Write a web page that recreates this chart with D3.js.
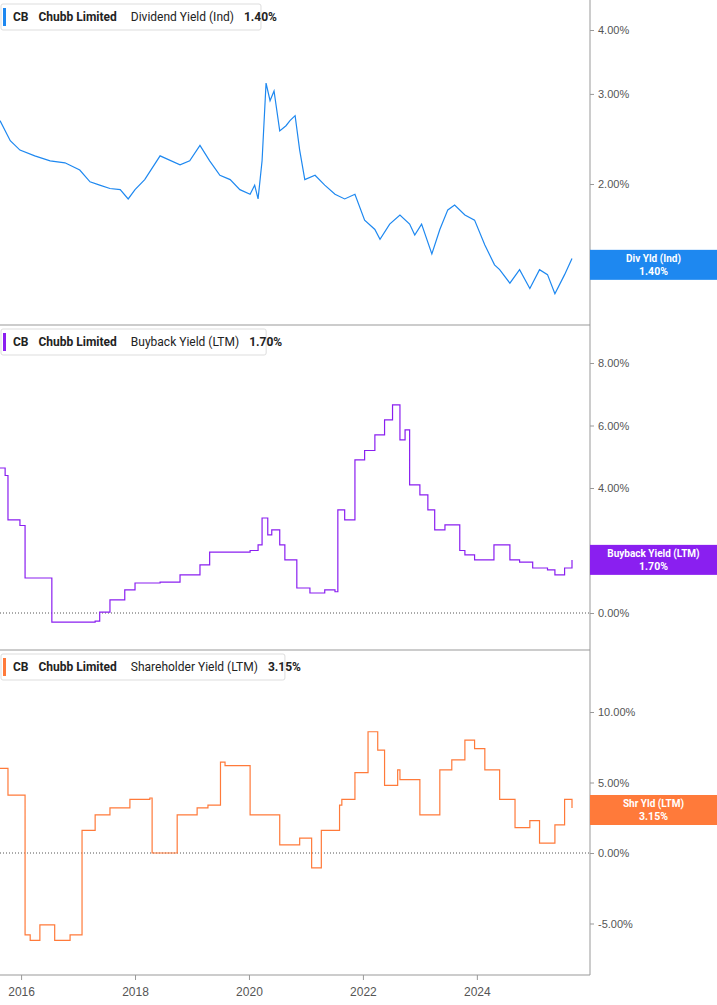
<!DOCTYPE html><html><head><meta charset="utf-8">
<script src="https://cdn.jsdelivr.net/npm/d3@7"></script>
<style>body{margin:0;background:#fff;font-family:Roboto,"Open Sans",sans-serif}</style></head><body>
<script>
const yearTicks=[2016,2018,2020,2022,2024];
const divYears=[15.63,15.81,15.98,16.24,16.51,16.77,17.03,17.21,17.38,17.56,17.74,17.88,18.00,18.17,18.44,18.79,18.96,19.14,19.31,19.49,19.67,19.84,20.02,20.10,20.16,20.23,20.30,20.37,20.44,20.54,20.65,20.72,20.81,20.89,20.98,21.16,21.33,21.51,21.68,21.86,22.03,22.21,22.30,22.47,22.65,22.82,22.91,23.03,23.21,23.35,23.49,23.61,23.79,23.96,24.14,24.31,24.40,24.58,24.75,24.93,25.10,25.24,25.37,25.54,25.67];
const divVals=[2.66,2.43,2.33,2.27,2.22,2.20,2.13,2.02,1.99,1.96,1.95,1.87,1.95,2.04,2.27,2.18,2.22,2.38,2.22,2.08,2.04,1.95,1.91,1.99,1.87,2.22,3.15,2.91,3.04,2.54,2.60,2.66,2.72,2.33,2.04,2.08,1.99,1.91,1.87,1.91,1.70,1.63,1.56,1.67,1.74,1.67,1.59,1.67,1.46,1.63,1.78,1.82,1.74,1.70,1.52,1.39,1.36,1.28,1.36,1.25,1.36,1.33,1.22,1.33,1.43,1.39];
const bbYears=[15.63,15.72,15.77,15.98,16.07,16.33,16.54,17.30,17.38,17.56,17.82,18.00,18.44,18.79,19.14,19.31,19.67,20.02,20.16,20.23,20.33,20.40,20.54,20.63,20.84,21.07,21.33,21.51,21.56,21.68,21.81,21.86,22.03,22.21,22.38,22.52,22.65,22.74,22.82,23.00,23.14,23.26,23.44,23.70,23.79,23.96,24.30,24.58,24.75,24.98,25.24,25.37,25.54,25.67];
const bbVals=[4.64,4.40,2.98,2.80,1.12,1.12,-0.29,-0.26,0.03,0.42,0.74,0.96,0.99,1.22,1.54,1.95,1.95,2.00,2.18,3.04,2.50,2.66,2.18,1.70,0.80,0.64,0.74,0.68,3.30,2.98,2.98,4.90,5.20,5.70,6.18,6.66,5.54,5.86,4.10,3.78,3.30,2.66,2.82,2.00,1.86,1.70,2.18,1.70,1.63,1.44,1.38,1.22,1.44,1.70,1.70];
const shYears=[15.63,15.77,16.07,16.16,16.33,16.59,16.86,17.07,17.07,17.30,17.56,17.91,18.26,18.30,18.52,18.74,19.09,19.28,19.50,19.58,20.02,20.12,20.54,20.80,20.89,21.10,21.13,21.27,21.59,21.63,21.86,21.91,22.09,22.26,22.38,22.61,22.65,23.00,23.14,23.35,23.56,23.79,23.96,24.14,24.40,24.67,24.93,25.10,25.37,25.54,25.67];
const shVals=[6.0,4.1,-5.8,-6.2,-5.1,-6.2,-5.8,-5.8,1.6,2.7,3.2,3.8,3.9,0,0,2.7,3.2,3.4,6.45,6.2,2.7,2.7,0.57,0.57,1.06,-1.06,-1.06,1.6,3.4,3.8,5.7,5.7,8.6,7.3,4.8,5.9,5.2,2.7,2.7,5.9,6.6,8.0,7.4,5.9,3.8,1.8,2.3,0.7,2.0,3.8,3.2,3.05];
const divTicks=[2,3,4], bbTicks=[0,2,4,6,8], shTicks=[-5,0,5,10];

const W=717,H=1005,R=590;
const svg=d3.select("body").append("svg").attr("width",W).attr("height",H).style("font-family","Roboto,sans-serif");
const x=d3.scaleLinear().domain([2015.63,2025.67]).range([0,572]);
const yr=a=>a.map(v=>2000+v);
const panels=[
 {top:0,bot:325,color:"#1e88f0",years:yr(divYears),vals:divVals,y:d3.scaleLog().domain([2,4]).range([184,30]),ticks:divTicks,fmt:d=>d.toFixed(2)+"%",name:"Dividend Yield (Ind)",val:"1.40%",lab:"Div Yld (Ind)",curve:d3.curveLinear,zero:false},
 {top:325,bot:650,color:"#8a1ff0",years:yr(bbYears),vals:bbVals,y:d3.scaleLinear().domain([0,8]).range([613,363]),ticks:bbTicks,fmt:d=>d.toFixed(2)+"%",name:"Buyback Yield (LTM)",val:"1.70%",lab:"Buyback Yield (LTM)",curve:d3.curveStepAfter,zero:true},
 {top:650,bot:975,color:"#ff7a3a",years:yr(shYears),vals:shVals,y:d3.scaleLinear().domain([0,10]).range([853,712]),ticks:shTicks,fmt:d=>d.toFixed(2)+"%",name:"Shareholder Yield (LTM)",val:"3.15%",lab:"Shr Yld (LTM)",curve:d3.curveStepAfter,zero:true}];
svg.append("line").attr("x1",R).attr("x2",R).attr("y1",0).attr("y2",975).attr("stroke","#999");
panels.forEach((p,i)=>{
  const g=svg.append("g");
  if(i>0) g.append("line").attr("x1",0).attr("x2",R).attr("y1",p.top).attr("y2",p.top).attr("stroke","#999");
  const ax=g.append("g").attr("transform",`translate(${R},0)`).call(d3.axisRight(p.y).tickValues(p.ticks).tickFormat(p.fmt).tickSize(4));
  ax.select(".domain").remove();ax.selectAll("line").attr("stroke","#999");
  ax.selectAll("text").attr("x",8).attr("fill","#555").style("font-size","11px");
  if(p.zero) g.append("line").attr("x1",0).attr("x2",R).attr("y1",p.y(0)).attr("y2",p.y(0)).attr("stroke","#555").attr("stroke-dasharray","1,2");
  const pts=p.years.map((t,k)=>[t,p.vals[k]]);
  g.append("path").attr("d",d3.line().x(d=>x(d[0])).y(d=>p.y(d[1])).curve(p.curve)(pts)).attr("fill","none").attr("stroke",p.color).attr("stroke-width",1.2);
  const lg=g.append("g").attr("transform",`translate(1,${p.top+4})`);
  const t=lg.append("text").attr("x",12).attr("y",17).style("font-size","12px").attr("fill","#222");
  t.append("tspan").text("CB").attr("font-weight","bold");
  t.append("tspan").text("Chubb Limited").attr("font-weight","bold").attr("dx",10);
  t.append("tspan").text(p.name).attr("dx",14);
  t.append("tspan").text(p.val).attr("font-weight","bold").attr("dx",10);
  const bw=t.node().getComputedTextLength()+30;
  lg.insert("rect","text").attr("width",bw).attr("height",26).attr("fill","#fff").attr("stroke","#ddd").attr("rx",2);
  lg.insert("rect","text").attr("x",2).attr("y",4).attr("width",3).attr("height",18).attr("fill",p.color);
  const last=p.vals[p.vals.length-1], ly=p.y(last);
  g.append("rect").attr("x",R).attr("y",ly-15).attr("width",W-R).attr("height",30).attr("fill",p.color);
  g.append("text").attr("x",(R+W)/2).attr("y",ly-3).attr("text-anchor","middle").attr("fill","#fff").style("font-size","10px").attr("font-weight","bold").text(p.lab);
  g.append("text").attr("x",(R+W)/2).attr("y",ly+10).attr("text-anchor","middle").attr("fill","#fff").style("font-size","10.5px").attr("font-weight","bold").text(p.val);
});
svg.append("line").attr("x1",0).attr("x2",R).attr("y1",975).attr("y2",975).attr("stroke","#999");
const xa=svg.append("g").attr("transform","translate(0,975)").call(d3.axisBottom(x).tickValues(yearTicks).tickFormat(d3.format("d")).tickSize(5));
xa.select(".domain").remove();xa.selectAll("line").attr("stroke","#999");
xa.selectAll("text").attr("fill","#555").style("font-size","12px").attr("dy","1.1em");
</script></body></html>
